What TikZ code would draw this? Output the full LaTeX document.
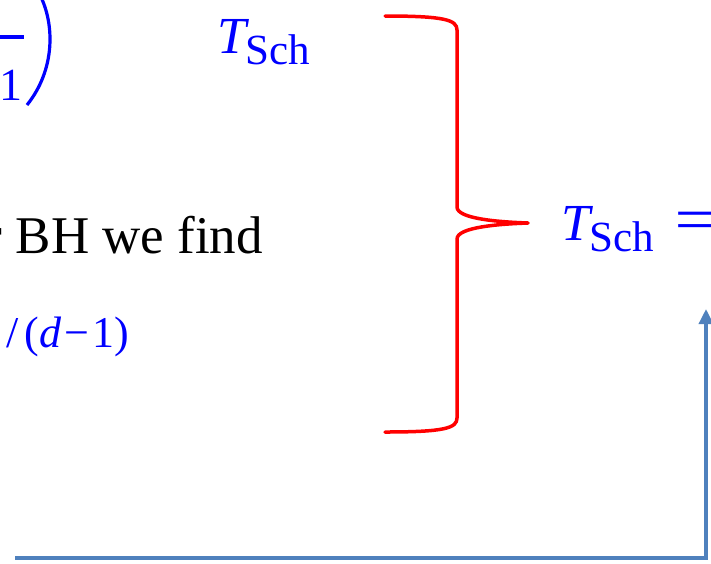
\documentclass[tikz,border=0pt]{standalone}
\usepackage{fontspec}
\setmainfont{Liberation Serif}
\usetikzlibrary{arrows.meta}
\definecolor{eqblue}{RGB}{0,0,255}
\definecolor{bracered}{RGB}{255,0,0}
\definecolor{arrowblue}{RGB}{79,129,189}
\newcommand{\TschSym}{{\fontsize{52}{60}\selectfont\itshape T}\kern0pt\raisebox{-11pt}{\fontsize{43}{50}\selectfont Sch}}
\begin{document}
\begin{tikzpicture}[x=1pt,y=-1pt,
  eqtext/.style={inner sep=0pt,outer sep=0pt,text=eqblue},
  bodytext/.style={inner sep=0pt,outer sep=0pt,text=black,font=\fontsize{53}{60}\selectfont},
  bracestyle/.style={draw=bracered,line width=3.5pt,line cap=round,line join=round},
  arrowline/.style={draw=arrowblue,line width=3.5pt,-{Triangle[length=15pt,width=14pt]}}]
\useasboundingbox (0,0) rectangle (711,563);
\clip (0,0) rectangle (711,563);
% top-left fragment of a formula
\draw[eqblue,line width=3.5pt] (-5,37) -- (24,37);
\node[eqtext,anchor=base west,font=\fontsize{46}{50}\selectfont] (one) at (-1,100) {1};
\draw[eqblue,line width=3.2pt] (40,-5) .. controls (55,25) and (55,70) .. (27,105);
% top T_Sch
\node[eqtext,anchor=base west] (tsch1) at (217,53) {\TschSym};
% text line
\node[bodytext,anchor=base east] (find) at (263,253) {r BH we find};
% exponent fragment
\node[eqtext,anchor=base east,font=\fontsize{44}{50}\selectfont] (expo) at (129,347) {/\kern6pt(\textit{d}\kern3pt−\kern3pt1)};
% red brace
\draw[bracestyle] (385,16) .. controls (445,16) and (457,20) .. (457,30)
  -- (457,207) .. controls (457,219) and (500,222) .. (528,223)
  .. controls (500,224) and (457,227) .. (457,239)
  -- (457,418) .. controls (457,428) and (445,432) .. (385,432);
\coordinate (tip) at (528,223);
% right T_Sch =
\node[eqtext,anchor=base west] (tsch2) at (561,240) {\TschSym\hspace{20pt}\scalebox{1.35}[1]{\fontsize{62}{66}\selectfont =}};
% arrow
\coordinate (as) at (15,558);
\coordinate (ae) at (706,309);
\draw[arrowline] (as) -| (ae);
\end{tikzpicture}
\end{document}
